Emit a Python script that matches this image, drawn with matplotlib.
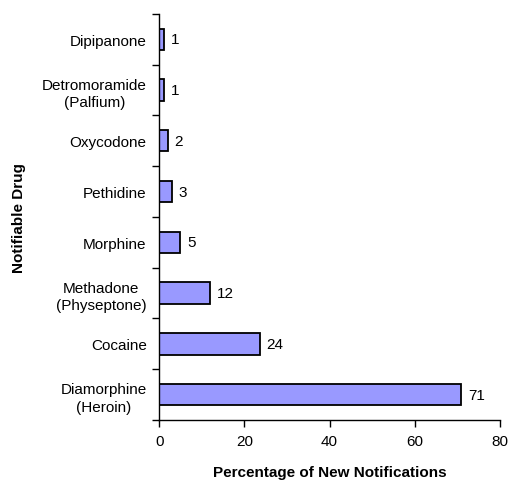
import matplotlib.pyplot as plt
import numpy as np

plt.rcParams['font.family'] = ['Liberation Sans', 'DejaVu Sans']

# bottom to top, as drawn
drugs = ['Diamorphine\n(Heroin)', 'Cocaine', 'Methadone\n(Physeptone)', 'Morphine',
         'Pethidine', 'Oxycodone', 'Detromoramide\n(Palfium)', 'Dipipanone']
percent = [70.8, 23.6, 12.0, 5.0, 3.0, 2.0, 1.1, 1.1]
labels = ['71', '24', '12', '5', '3', '2', '1', '1']

fig = plt.figure(figsize=(5.15, 4.81), dpi=100)
ax = fig.add_axes([0.309, 0.1247, 0.662, 0.8443])

pos = np.arange(len(drugs))
ax.barh(pos, percent, height=0.42, color='#9999FF', edgecolor='black', linewidth=1.3)

for p, v, t in zip(pos, percent, labels):
    ax.annotate(t, (v, p), xytext=(5, 0), textcoords='offset points',
                va='center', ha='left', fontsize=11)

ax.set_xlim(0, 80)
ax.set_ylim(-0.5, len(drugs) - 0.5)
ax.set_xticks([0, 20, 40, 60, 80])
ax.set_yticks(pos)
ax.set_yticklabels(drugs, multialignment='center', linespacing=1.35)
ax.set_yticks(np.arange(-0.5, len(drugs)), minor=True)
ax.tick_params(axis='y', which='major', length=0, pad=9, labelsize=11)
ax.tick_params(axis='y', which='minor', length=5, width=1, direction='out')
ax.tick_params(axis='x', length=5, width=1, direction='out', labelsize=11, pad=5)

for s in ['top', 'right']:
    ax.spines[s].set_visible(False)
for s in ['left', 'bottom']:
    ax.spines[s].set_linewidth(1)

fig.text(330 / 515, 1 - 473 / 481, 'Percentage of New Notifications', fontweight='bold',
         fontsize=11, ha='center', va='center')
fig.text(19 / 515, 0.547, 'Notifiable Drug', rotation=90, fontweight='bold', fontsize=11,
         ha='center', va='center')

fig.savefig('out.png', dpi=100)
